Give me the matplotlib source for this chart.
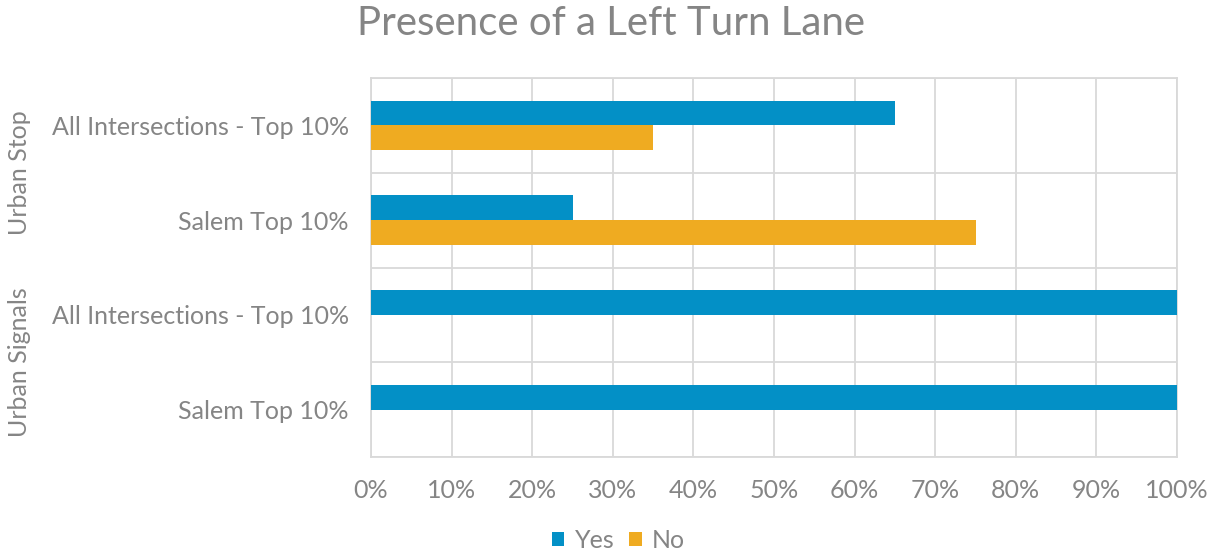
import numpy as np
from matplotlib import pyplot as plt

categories = ['All Intersections - Top 10%', 'Salem Top 10%',
              'All Intersections - Top 10%', 'Salem Top 10%']
groups = ['Urban Stop', 'Urban Signals']
yes_share = [0.65, 0.25, 1.00, 1.00]
no_share = [0.35, 0.75, 0.0, 0.0]
x_ticks = np.arange(0, 1.01, 0.1)
x_labels = [f'{int(round(t * 100))}%' for t in x_ticks]

BLUE = '#0390C6'
ORANGE = '#EFAB21'
TEXT = '#858585'
GRID = '#D9D9D9'

plt.rcParams['font.family'] = ['Lato', 'DejaVu Sans']

fig = plt.figure(figsize=(12.15, 5.54), dpi=100)
ax = fig.add_axes([371 / 1215, 1 - 457 / 554, (1177 - 371) / 1215, (457 - 78) / 554])

pos = np.arange(len(categories))
h = 0.26
ax.barh(pos - h / 2, yes_share, height=h, color=BLUE, label='Yes', zorder=3)
ax.barh(pos + h / 2, no_share, height=h, color=ORANGE, label='No', zorder=3)

ax.set_xlim(0, 1)
ax.set_ylim(len(categories) - 0.5, -0.5)
ax.set_xticks(x_ticks)
ax.set_xticklabels(x_labels)
ax.set_yticks(pos)
ax.set_yticklabels(categories)
ax.set_yticks(np.arange(-0.5, len(categories), 1.0), minor=True)
ax.tick_params(axis='both', which='both', length=0, labelsize=18, colors=TEXT)
ax.tick_params(axis='x', pad=16)
ax.tick_params(axis='y', pad=16)
ax.grid(axis='x', color=GRID, linewidth=1.3, zorder=0)
ax.grid(axis='y', which='minor', color=GRID, linewidth=1.3, zorder=0)
for s in ax.spines.values():
    s.set_color(GRID)
    s.set_linewidth(1.3)

# group labels on the left
for i, g in enumerate(groups):
    yc = 2 * i + 0.5
    ax.text(-0.4355, yc, g, rotation=90, ha='center', va='center',
            fontsize=18, color=TEXT, transform=ax.get_yaxis_transform())

fig.text(0.503, 0.958, 'Presence of a Left Turn Lane', ha='center', va='center',
         fontsize=29, color=TEXT)

leg = fig.legend(loc='center', bbox_to_anchor=(0.509, 0.025), ncol=2, frameon=False,
                 fontsize=18, handlelength=0.5, handleheight=0.5, handletextpad=0.4,
                 columnspacing=0.6)
for t in leg.get_texts():
    t.set_color(TEXT)

fig.savefig('out.png', dpi=100)
